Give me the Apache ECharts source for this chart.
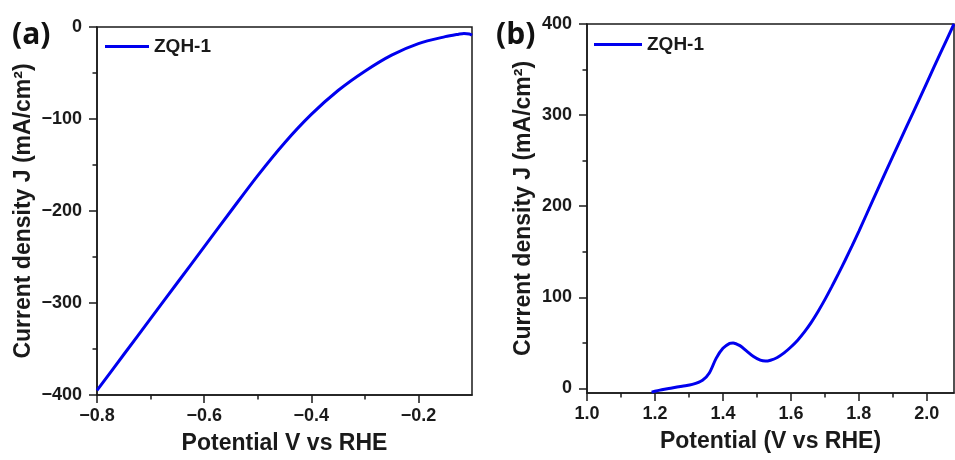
<!DOCTYPE html>
<html>
<head>
<meta charset="utf-8">
<script src="https://cdn.jsdelivr.net/npm/echarts@6/dist/echarts.min.js"></script>
<style>
  html, body { margin: 0; padding: 0; background: #fff; }
  #chart { width: 955px; height: 460px; }
</style>
</head>
<body>
<div id="chart"></div>
<script>
// (a) HER polarisation curve: potential (V vs RHE) and current density (mA/cm2)
const herPotential = [-0.80, -0.75, -0.70, -0.65, -0.60, -0.55, -0.50, -0.45, -0.40, -0.35, -0.30, -0.25, -0.20, -0.15, -0.125, -0.115, -0.105, -0.10];
const herCurrent   = [-395, -356, -317, -278, -239, -200, -161.5, -126, -95, -69, -48, -30.5, -18, -10.5, -7.8, -7, -7.6, -9];

// (b) OER polarisation curve
const oerPotential = [1.19, 1.22, 1.25, 1.28, 1.31, 1.34, 1.36, 1.38, 1.40, 1.42, 1.43, 1.45, 1.47, 1.49, 1.51, 1.525, 1.54, 1.56, 1.58, 1.60, 1.62, 1.64, 1.66, 1.68, 1.70, 1.72, 1.74, 1.76, 1.78, 1.80, 1.84, 1.88, 1.92, 1.96, 2.00, 2.04, 2.08];
const oerCurrent   = [-4, -1.5, 0.5, 2.5, 4.5, 9, 17, 33, 44, 49.5, 50, 47, 41, 35, 31, 30, 31, 34, 39, 45.5, 53, 62, 72.5, 84.5, 97.5, 111.5, 126, 141, 156.5, 172.5, 205.5, 238.5, 271, 303, 335.5, 368, 400];

// Tick positions
const herXTicks = [-0.8, -0.6, -0.4, -0.2];
const herXMinor = [-0.7, -0.5, -0.3];
const herYTicks = [-400, -300, -200, -100, 0];
const herYMinor = [-350, -250, -150, -50];
const oerXTicks = [1.0, 1.2, 1.4, 1.6, 1.8, 2.0];
const oerXMinor = [1.1, 1.3, 1.5, 1.7, 1.9];
const oerYTicks = [0, 100, 200, 300, 400];
const oerYMinor = [50, 150, 250, 350];

const seriesName = 'ZQH-1';
const curveColor = '#0000ee';
const inkColor = '#1a1a1a';
const sans = '"Liberation Sans", Arial, sans-serif';

const signed = (v, digits) => {
  const s = digits == null ? String(Math.abs(v)) : Math.abs(v).toFixed(digits);
  return (v < 0 ? '\u2212' : '') + s;
};

function majorAxis(opt) {
  return {
    type: 'value',
    gridIndex: opt.grid,
    position: opt.position,
    min: opt.min,
    max: opt.max,
    name: opt.name,
    nameLocation: 'middle',
    nameGap: opt.nameGap,
    nameTextStyle: { fontFamily: sans, fontWeight: 'bold', fontSize: 23, color: inkColor },
    axisLine: { show: true, onZero: false, lineStyle: { color: inkColor, width: 1.5 } },
    axisTick: { show: true, inside: false, length: 8, customValues: opt.ticks, lineStyle: { color: inkColor, width: 1.5 } },
    axisLabel: {
      customValues: opt.ticks,
      formatter: opt.fmt,
      margin: opt.margin,
      fontFamily: sans, fontWeight: 'bold', fontSize: 18, color: inkColor
    },
    splitLine: { show: false }
  };
}

function minorAxis(opt) {
  return {
    type: 'value',
    gridIndex: opt.grid,
    position: opt.position,
    min: opt.min,
    max: opt.max,
    axisLine: { show: false, onZero: false },
    axisTick: { show: true, inside: false, length: 4.5, customValues: opt.ticks, lineStyle: { color: inkColor, width: 1.5 } },
    axisLabel: { show: false },
    splitLine: { show: false }
  };
}

const zip = (xs, ys) => xs.map((x, i) => [x, ys[i]]);

const legendBase = {
  padding: 0,
  icon: 'rect',
  itemHeight: 3,
  data: [seriesName],
  textStyle: { fontFamily: sans, fontWeight: 'bold', fontSize: 19, color: inkColor }
};

const chart = echarts.init(document.getElementById('chart'), null, { renderer: 'canvas' });

chart.setOption({
  backgroundColor: '#ffffff',
  animation: false,
  grid: [
    { left: 97, right: 483, top: 27, bottom: 64, show: true, borderColor: inkColor, borderWidth: 1.5, backgroundColor: 'transparent' },
    { left: 587, right: 1, top: 24, bottom: 67, show: true, borderColor: inkColor, borderWidth: 1.5, backgroundColor: 'transparent' }
  ],
  xAxis: [
    majorAxis({ grid: 0, position: 'bottom', min: -0.8, max: -0.1, ticks: herXTicks, fmt: v => signed(v, 1), margin: 12, name: 'Potential V vs RHE', nameGap: 37 }),
    minorAxis({ grid: 0, position: 'bottom', min: -0.8, max: -0.1, ticks: herXMinor }),
    majorAxis({ grid: 1, position: 'bottom', min: 1.0, max: 2.08, ticks: oerXTicks, fmt: v => signed(v, 1), margin: 12, name: 'Potential (V vs RHE)', nameGap: 37 }),
    minorAxis({ grid: 1, position: 'bottom', min: 1.0, max: 2.08, ticks: oerXMinor })
  ],
  yAxis: [
    majorAxis({ grid: 0, position: 'left', min: -400, max: 0, ticks: herYTicks, fmt: v => signed(v), margin: 15, name: 'Current density J (mA/cm\u00B2)', nameGap: 62 }),
    minorAxis({ grid: 0, position: 'left', min: -400, max: 0, ticks: herYMinor }),
    majorAxis({ grid: 1, position: 'left', min: -5, max: 400, ticks: oerYTicks, fmt: v => signed(v), margin: 15, name: 'Current density J (mA/cm\u00B2)', nameGap: 52 }),
    minorAxis({ grid: 1, position: 'left', min: -5, max: 400, ticks: oerYMinor })
  ],
  legend: [
    Object.assign({}, legendBase, { left: 105, top: 37, itemWidth: 44 }),
    Object.assign({}, legendBase, { left: 594, top: 35, itemWidth: 48 })
  ],
  graphic: [
    { type: 'text', left: 12, top: 20, style: { text: '(a)', font: 'bold 30px "Open Sans", sans-serif', fill: '#111' } },
    { type: 'text', left: 496, top: 20, style: { text: '(b)', font: 'bold 30px "Open Sans", sans-serif', fill: '#111' } }
  ],
  series: [
    {
      name: seriesName, type: 'line', xAxisIndex: 0, yAxisIndex: 0,
      data: zip(herPotential, herCurrent),
      symbol: 'none', smooth: 0.3,
      lineStyle: { color: curveColor, width: 3 }, itemStyle: { color: curveColor }
    },
    {
      name: seriesName, type: 'line', xAxisIndex: 2, yAxisIndex: 2,
      data: zip(oerPotential, oerCurrent),
      symbol: 'none', smooth: 0.3,
      lineStyle: { color: curveColor, width: 3 }, itemStyle: { color: curveColor }
    }
  ]
});
</script>
</body>
</html>
